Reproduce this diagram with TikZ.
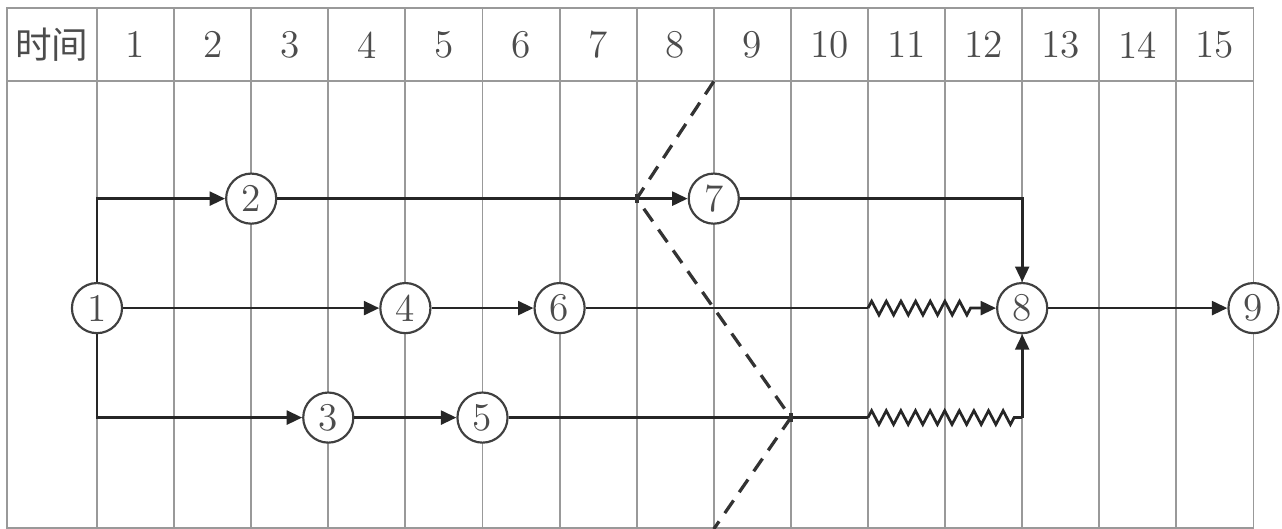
\documentclass[tikz,border=0pt]{standalone}
\usepackage{fontspec}
\newfontfamily\cjk{Noto Sans CJK SC}
\usetikzlibrary{arrows.meta}
\usetikzlibrary{decorations.pathmorphing}

\begin{document}
\begin{tikzpicture}[
		evt/.style={draw=black!75,circle,line width=0.8pt,minimum size=0.65cm,inner sep=0pt,fill=white,font=\fontsize{14.5}{16}\selectfont,text=black!70},
		work/.style={line width=1pt,draw=black!85},
		tip/.style={-{Triangle[length=0.2cm,width=0.18cm]}},
		grid/.style={draw=black!40,line width=0.7pt}
	]
		\useasboundingbox (-1.258,-2.865) rectangle (15.37,3.996);
		% table
		\draw [grid] (-1.17,3.89) rectangle (15,2.94);
		\draw [grid] (-1.17,2.94) -- (-1.17,-2.85) -- (15,-2.85);
		\foreach \t in {0,...,15}
			\draw [grid] (\t,3.89) -- (\t,-2.865);
		\node [text=black!70,font=\cjk\fontsize{13.5}{15}\selectfont] (hd) at (-0.585,3.415) {时间};
		\foreach \t in {1,...,15}
			\node [text=black!70,font=\fontsize{14.5}{16}\selectfont] (h\t) at (\t-0.5,3.415) {\t};
		% events
		\node [evt] (n1) at (0,0) {1};
		\node [evt] (n2) at (2,1.42) {2};
		\node [evt] (n7) at (8,1.42) {7};
		\node [evt] (n4) at (4,0) {4};
		\node [evt] (n6) at (6,0) {6};
		\node [evt] (n8) at (12,0) {8};
		\node [evt] (n9) at (15,0) {9};
		\node [evt] (n3) at (3,-1.42) {3};
		\node [evt] (n5) at (5,-1.42) {5};
		\coordinate (z1) at (10,0);
		\coordinate (z2) at (10,-1.42);
		\coordinate (z3) at (12,-1.42);
		% works
		\draw [work,tip] (n1) |- (n2);
		\draw [work,tip] (n1) -- (n4);
		\draw [work,tip] (n1) |- (n3);
		\draw [work,tip] (n2) -- (n7);
		\draw [work,tip] (n7) -| (n8);
		\draw [work,tip] (n4) -- (n6);
		\draw [work,tip] (n3) -- (n5);
		\draw [work] (n6) -- (z1);
		\draw [work,tip,decorate,decoration={zigzag,segment length=0.19cm,amplitude=0.09cm,post length=0.25cm}] (z1) -- (n8);
		\draw [work] (n5) -- (z2);
		\draw [work,decorate,decoration={zigzag,segment length=0.1895cm,amplitude=0.09cm,post length=0.1cm}] (z2) -- (z3);
		\draw [work,tip] (z3) -- (n8);
		\draw [work,tip] (n8) -- (n9);
		% check line
		\coordinate (c1) at (8,2.94);
		\coordinate (c2) at (7,1.42);
		\coordinate (c3) at (9,-1.42);
		\coordinate (c4) at (8,-2.865);
		\draw [line width=1.2pt,draw=black!80,dash pattern=on 0.2cm off 0.13cm] (c1) -- (c2) -- (c3) -- (c4);
		\draw [line width=1.6pt,draw=black!80] (7,1.36) -- (7,1.48);
		\draw [line width=1.6pt,draw=black!80] (9,-1.36) -- (9,-1.48);
	\end{tikzpicture}
\end{document}
